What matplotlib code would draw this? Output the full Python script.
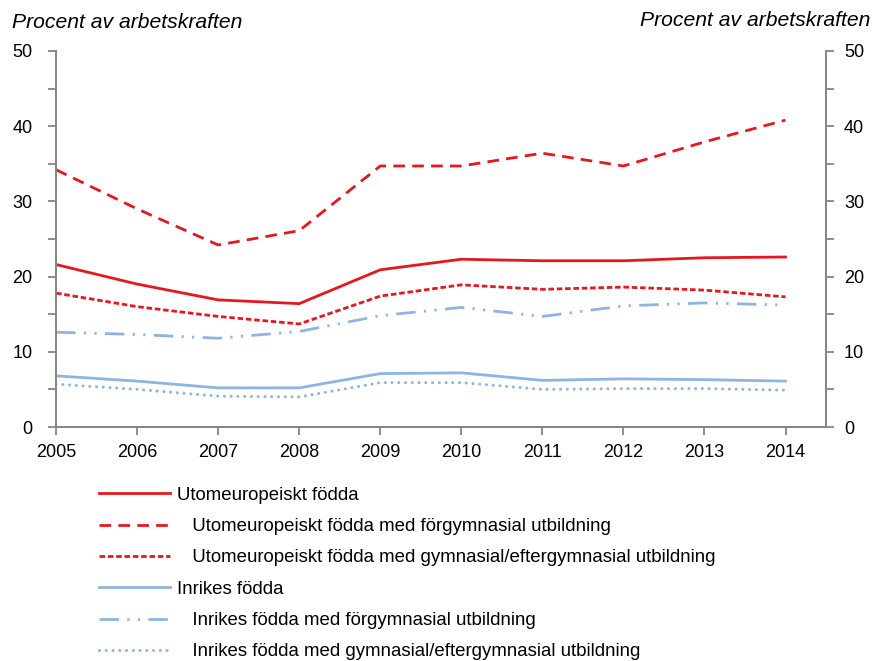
import matplotlib
matplotlib.use("Agg")
import matplotlib.pyplot as plt
from matplotlib.ticker import MultipleLocator

plt.rcParams['font.family'] = ['Liberation Sans', 'DejaVu Sans']

years = [2005, 2006, 2007, 2008, 2009, 2010, 2011, 2012, 2013, 2014]

utom = [21.6, 19.0, 16.9, 16.4, 20.9, 22.3, 22.1, 22.1, 22.5, 22.6]
utom_forgym = [34.2, 29.0, 24.2, 26.1, 34.7, 34.7, 36.4, 34.7, 37.9, 40.8]
utom_gym = [17.8, 16.0, 14.7, 13.7, 17.4, 18.9, 18.3, 18.6, 18.2, 17.3]
inrikes = [6.8, 6.1, 5.2, 5.2, 7.1, 7.2, 6.2, 6.4, 6.3, 6.1]
inrikes_forgym = [12.6, 12.3, 11.8, 12.7, 14.8, 15.9, 14.7, 16.1, 16.5, 16.2]
inrikes_gym = [5.7, 5.0, 4.1, 4.0, 5.9, 5.9, 5.0, 5.1, 5.1, 4.9]

labels = [
    "Utomeuropeiskt födda",
    "   Utomeuropeiskt födda med förgymnasial utbildning",
    "   Utomeuropeiskt födda med gymnasial/eftergymnasial utbildning",
    "Inrikes födda",
    "   Inrikes födda med förgymnasial utbildning",
    "   Inrikes födda med gymnasial/eftergymnasial utbildning",
]

red = '#E8161E'
blue = '#8DB4E2'
grey = '#868686'

fig = plt.figure(figsize=(8.76, 6.61), dpi=100)
ax = fig.add_axes([0.064, 0.354, 0.879, 0.569])

ax.plot(years, utom, color=red, lw=2.0, label=labels[0])
ax.plot(years, utom_forgym, color=red, lw=2.0, dashes=(4.2, 2.6), label=labels[1])
ax.plot(years, utom_gym, color=red, lw=2.0, dashes=(2.0, 1.0), label=labels[2])
ax.plot(years, inrikes, color=blue, lw=2.0, label=labels[3])
ax.plot(years, inrikes_forgym, color=blue, lw=2.0,
        dashes=(7, 3, 0.8, 3, 0.8, 3), label=labels[4])
ax.plot(years, inrikes_gym, color=blue, lw=2.2, dashes=(0.01, 2.2),
        dash_capstyle='round', label=labels[5])

ax.set_xlim(2005, 2014.5)
ax.set_ylim(0, 50)
ax.set_xticks(years)

# right-hand axis with the same scale
ax2 = ax.twinx()
ax2.set_ylim(ax.get_ylim())

for a in (ax, ax2):
    a.yaxis.set_major_locator(MultipleLocator(10))
    a.yaxis.set_minor_locator(MultipleLocator(5))
    a.spines['top'].set_visible(False)
    for s in ['left', 'right', 'bottom']:
        a.spines[s].set_color(grey)
        a.spines[s].set_linewidth(1.3)
    a.tick_params(axis='both', which='both', color=grey, width=1.3,
                  labelsize=13, direction='out', length=6)

ax.tick_params(axis='y', which='major', pad=11)
ax2.tick_params(axis='y', which='major', pad=7)
ax.tick_params(axis='x', pad=6)

fig.text(12 / 876, 1 - 22 / 661, "Procent av arbetskraften",
         fontsize=15.2, style='italic', ha='left', va='center')
fig.text(870 / 876, 1 - 20 / 661, "Procent av arbetskraften",
         fontsize=15.2, style='italic', ha='right', va='center')

fig.legend(loc='upper left', bbox_to_anchor=(0.1046, 0.275), frameon=False,
           fontsize=13.4, handlelength=3.8, handletextpad=0.4,
           labelspacing=0.77, borderaxespad=0)

fig.savefig("out.png", dpi=100)
